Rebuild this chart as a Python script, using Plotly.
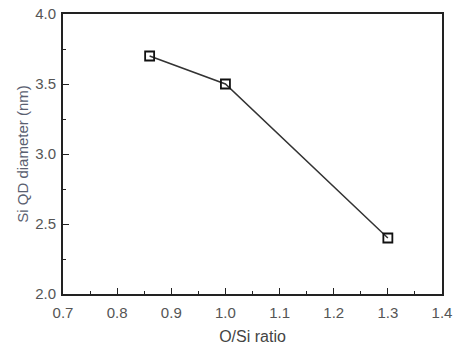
import plotly.graph_objects as go

o_si_ratio = [0.86, 1.0, 1.3]
diameter_nm = [3.70, 3.50, 2.40]

x_tickvals = [0.7, 0.8, 0.9, 1.0, 1.1, 1.2, 1.3, 1.4]
y_tickvals = [2.0, 2.5, 3.0, 3.5, 4.0]

fig = go.Figure()
fig.add_trace(go.Scatter(
    x=o_si_ratio, y=diameter_nm, mode="lines+markers",
    line=dict(color="#333333", width=1.5),
    marker=dict(symbol="square-open", size=9, color="#111111", line=dict(width=1.8)),
    showlegend=False,
))

axis_common = dict(
    showgrid=False, zeroline=False, showline=True, linecolor="#222222", linewidth=1.8,
    mirror=True, ticks="inside", ticklen=6, tickwidth=1.3, tickcolor="#222222",
    tickfont=dict(family="Liberation Sans, Arial", size=15, color="#555555"),
    automargin=False,
)

fig.update_xaxes(
    range=[0.7, 1.4], tickvals=x_tickvals, ticktext=[f"{v:.1f}" for v in x_tickvals],
    minor=dict(ticks="inside", ticklen=3, dtick=0.05, tickcolor="#222222", tickwidth=1.2),
    ticklabelstandoff=4,
    title=dict(text="O/Si ratio", font=dict(family="Liberation Sans, Arial", size=16, color="#444444"), standoff=12),
    **axis_common,
)
fig.update_yaxes(
    range=[2.0, 4.0], tickvals=y_tickvals, ticktext=[f"{v:.1f}" for v in y_tickvals],
    minor=dict(ticks="inside", ticklen=3, dtick=0.25, tickcolor="#222222", tickwidth=1.2),
    ticklabelstandoff=2,
    title=dict(text="Si QD diameter (nm)", font=dict(family="Liberation Sans, Arial", size=15, color="#5a6070"), standoff=3),
    **axis_common,
)

fig.update_layout(
    width=455, height=345,
    margin=dict(l=63, r=13, t=14, b=51),
    plot_bgcolor="white", paper_bgcolor="white",
)

fig.write_html("out.html")
